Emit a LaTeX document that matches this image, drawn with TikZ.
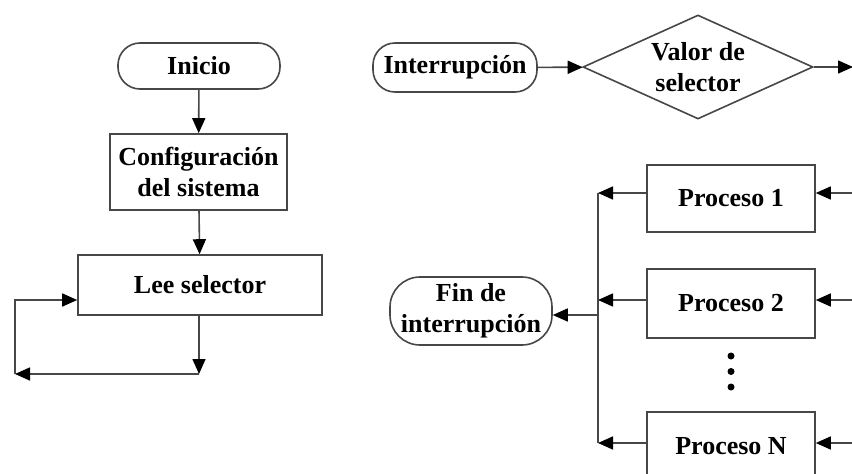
\documentclass[tikz,border=0pt]{standalone}
\usepackage{fontspec}
\setmainfont{Liberation Serif}
\usetikzlibrary{arrows.meta,shapes.geometric}
\begin{document}
\begin{tikzpicture}[x=1pt,y=-1pt,
  every node/.style={font=\fontsize{26}{31}\selectfont\bfseries, align=center, text=black, inner sep=0pt},
  ln/.style={draw=black!72, line width=1.6pt},
  arr/.style={ln, -{Triangle[length=15pt,width=13pt,fill=black,color=black]}},
  box/.style={ln, rectangle, fill=white},
  term/.style={ln, rectangle, rounded corners=22pt, fill=white},
  dec/.style={ln, diamond, aspect=2.2, fill=white}]
\useasboundingbox (0,0) rectangle (852,474);
\clip (0,0) rectangle (852,474);
% left flow
\node[term, minimum width=162pt, minimum height=46pt] (inicio) at (199,66) {Inicio};
\node[box, minimum width=177pt, minimum height=76pt] (config) at (198.5,172) {Configuración\\del sistema};
\node[box, minimum width=244pt, minimum height=60pt] (lee) at (200,285) {Lee selector};
\coordinate (l1) at (199,374);
\coordinate (l2) at (15,374);
\coordinate (l3) at (15,300);
\draw[arr] (inicio) -- (config);
\draw[arr] (config) -- (lee);
\draw[arr] (lee.south -| l1) -- (l1);
\draw[arr] (l1) -- (l2);
\draw[arr] (l2) -- (l3) -- (lee.west |- l3);
% right flow
\node[term, minimum width=164pt, minimum height=49pt] (interr) at (455,67.5) {Interrupción};
\node[dec, minimum width=230pt, minimum height=104pt] (valor) at (698,67) {Valor de\\selector};
\coordinate (vout) at (853,67);
\draw[arr] (interr) -- (valor);
\draw[arr] (valor.east) -- (vout);
\node[box, minimum width=168pt, minimum height=67pt] (p1) at (731,198.5) {Proceso 1};
\node[box, minimum width=168pt, minimum height=69pt] (p2) at (731,303.5) {Proceso 2};
\node[box, minimum width=168pt, minimum height=68pt] (pN) at (731,446) {Proceso N};
\node[term, rounded corners=30pt, minimum width=162pt, minimum height=68pt] (fin) at (471,311) {Fin de\\interrupción};
\coordinate (in1) at (853,193);
\coordinate (in2) at (853,300);
\coordinate (inN) at (853,443);
\coordinate (b1) at (598,193);
\coordinate (b2) at (598,300);
\coordinate (bN) at (598,443);
\coordinate (bf) at (598,315);
\draw[arr] (in1) -- (in1 -| p1.east);
\draw[arr] (in2) -- (in2 -| p2.east);
\draw[arr] (inN) -- (inN -| pN.east);
\draw[arr] (b1 -| p1.west) -- (b1);
\draw[arr] (b2 -| p2.west) -- (b2);
\draw[arr] (bN -| pN.west) -- (bN);
\draw[ln] (b1) -- (bN);
\draw[arr] (bf) -- (bf -| fin.east);
\fill (731,356) circle (3.5pt) (731,371.5) circle (3.5pt) (731,387) circle (3.5pt);
\end{tikzpicture}
\end{document}
